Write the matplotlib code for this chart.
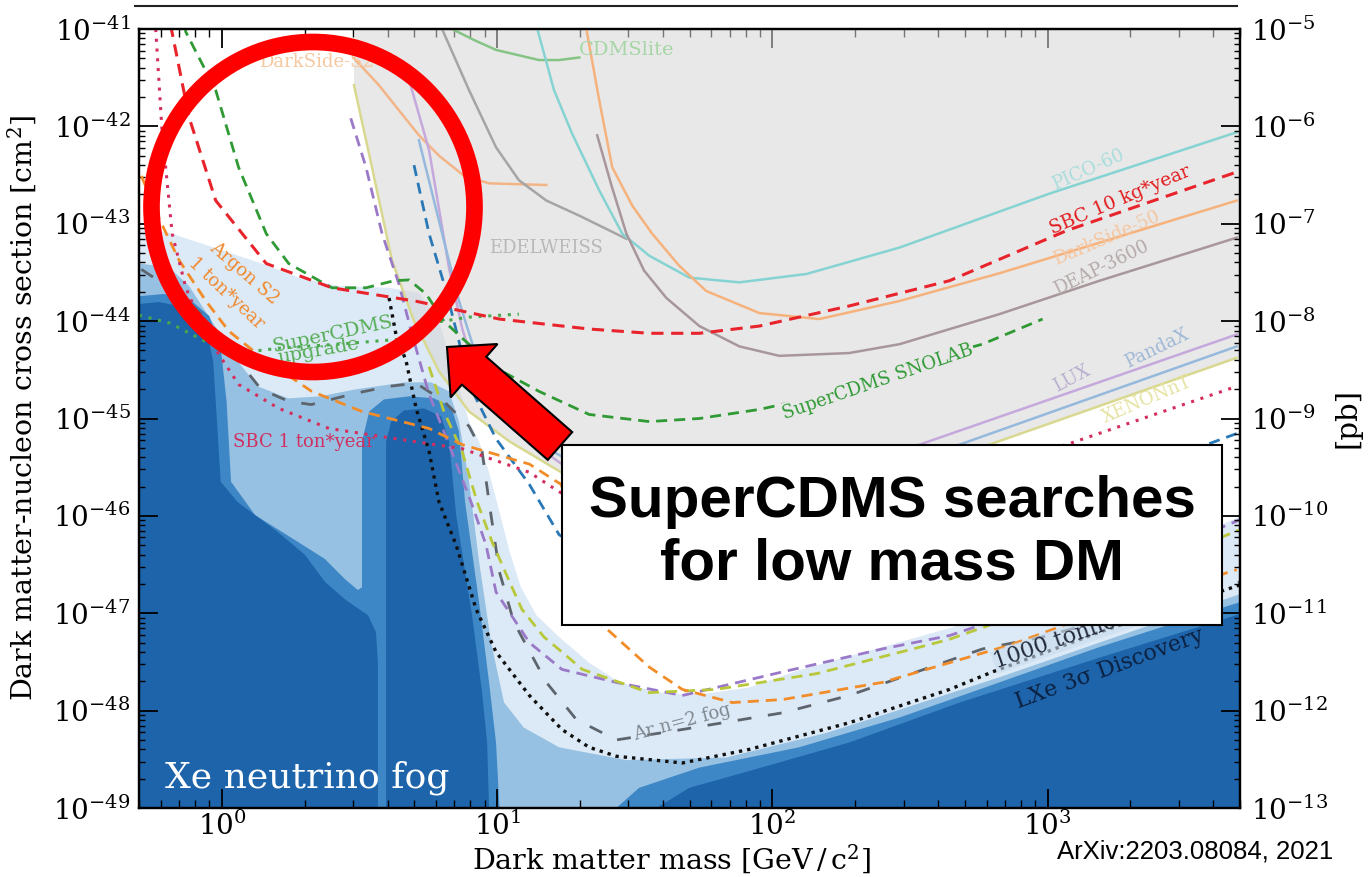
import numpy as np
import matplotlib
matplotlib.use("Agg")
import matplotlib.pyplot as plt
from matplotlib.ticker import LogLocator, NullFormatter
from matplotlib.patches import Ellipse, FancyArrow, Rectangle

plt.rcParams["font.family"] = ["DejaVu Serif"]
plt.rcParams["mathtext.fontset"] = "dejavuserif"

# ---------------- data: mass [GeV/c^2], cross section [cm^2] ----------------
# current limits (solid)
cdmslite_m = [6.86, 8.25, 9.91, 14.2, 16.8, 19.9]
cdmslite_s = [1e-41, 7.7e-42, 6.1e-42, 4.8e-42, 4.8e-42, 5.1e-42]
ds2_m = [3.02, 3.72, 4.40, 5.20, 6.15, 7.59, 9.35, 15.1]
ds2_s = [5.0e-42, 2.65e-42, 1.46e-42, 8.1e-43, 5.0e-43, 3.1e-43, 2.6e-43, 2.5e-43]
edel_m = [6.31, 7.91, 9.91, 12.0, 15.1, 19.9, 29.5]
edel_s = [1e-41, 2.35e-42, 6.1e-43, 2.8e-43, 1.73e-43, 1.21e-43, 7.0e-44]
pico_m = [14.0, 16.1, 18.7, 23.5, 28.5, 35.7, 49.9, 75.9, 133, 290, 1016, 4866]
pico_s = [1e-41, 2.35e-42, 8.5e-43, 2.2e-43, 7.9e-44, 4.7e-44, 2.8e-44, 2.5e-44,
          3.05e-44, 5.7e-44, 2.04e-43, 8.7e-43]
ds50_m = [21.1, 23.5, 26.2, 31.0, 36.6, 45.9, 57.5, 89.7, 148, 290, 668, 1545, 4866]
ds50_s = [1e-41, 1.85e-42, 3.8e-43, 1.53e-43, 7.9e-44, 3.7e-44, 2.04e-44, 1.21e-44,
          1.05e-44, 1.61e-44, 3.1e-44, 6.4e-44, 1.73e-43]
deap_m = [23.1, 26.0, 29.5, 34.2, 41.2, 54.3, 75.9, 106, 190, 290, 668, 1545, 4866]
deap_s = [8.1e-43, 2.5e-43, 7.9e-44, 3.3e-44, 1.73e-44, 8.9e-45, 5.5e-45, 4.4e-45,
          4.7e-45, 5.8e-45, 1.18e-44, 2.6e-44, 7.2e-44]
lux_m = [4.79, 5.66, 6.69, 7.46, 8.60, 11.3, 17.2, 35.7, 125, 343, 4866]
lux_s = [3.0e-42, 5.7e-43, 3.5e-44, 8.5e-45, 2.24e-45, 7.9e-46, 3.4e-46, 2.24e-46,
         2.8e-46, 5.4e-46, 7.3e-45]
pandax_m = [5.20, 6.15, 7.27, 8.97, 12.0, 17.1, 54.3, 190, 479, 4866]
pandax_s = [7.2e-43, 1.07e-43, 1.61e-44, 2.4e-45, 7.3e-46, 4.1e-46, 1.77e-46, 2.8e-46,
            5.4e-46, 5.5e-45]
xe1t_m = [3.02, 3.51, 4.15, 4.99, 6.15, 7.91, 11.1, 17.1, 54.3, 190, 615, 4866]
xe1t_s = [2.65e-42, 3.8e-43, 4.2e-44, 1.0e-44, 3.05e-45, 1.18e-45, 5.8e-46, 2.8e-46,
          1.39e-46, 2.24e-46, 5.4e-46, 4.2e-45]

# projections (dashed / dotted)
sbc10_m = [0.65, 0.66, 0.76, 0.95, 1.45, 2.51, 5.08, 10.2, 21.6, 35.7, 54.3, 89.7, 190,
           440, 1172, 4866]
sbc10_s = [1.1e-41, 9.1e-42, 1.24e-42, 1.73e-43, 3.9e-44, 2.2e-44, 1.6e-44, 1.05e-44,
           8.3e-45, 7.5e-45, 7.5e-45, 8.9e-45, 1.43e-44, 2.6e-44, 8.5e-44, 3.4e-43]
sbc1t_m = [0.575, 0.605, 0.625, 0.66, 0.74, 0.875, 1.15, 1.61, 2.45, 4.29, 7.46, 13.1,
           16.8, 54.3, 190, 668, 1172, 4866]
sbc1t_s = [1e-41, 9.8e-43, 3.8e-43, 7.9e-44, 2.2e-44, 7.3e-45, 2.24e-45, 1.27e-45,
           7.9e-46, 6.2e-46, 4.9e-46, 2.8e-46, 1.77e-46, 3.4e-47, 8.7e-47, 3.6e-46,
           5.4e-46, 2.14e-45]
snolab_m = [0.73, 0.74, 0.95, 1.15, 1.45, 1.75, 2.51, 3.34, 4.22, 4.79, 5.52, 6.41, 7.46,
            9.91, 14.2, 21.6, 35.7, 54.3, 89.7, 148, 245, 405, 580, 959]
snolab_s = [1.1e-41, 9.3e-42, 2.35e-42, 3.8e-43, 7.9e-44, 3.9e-44, 2.2e-44, 2.2e-44,
            2.6e-44, 2.65e-44, 1.9e-44, 1.0e-44, 6.7e-45, 3.3e-45, 1.9e-45, 1.1e-45,
            9.3e-46, 1.0e-45, 1.24e-45, 1.69e-45, 2.7e-45, 4.4e-45, 5.8e-45, 1.05e-44]
upgrade_m = [0.50, 0.65, 0.87, 1.14, 1.64, 2.66, 4.36, 5.66, 7.91, 12.0]
upgrade_s = [1.15e-44, 9.5e-45, 6.2e-45, 4.7e-45, 5.3e-45, 5.8e-45, 6.5e-45, 9.5e-45,
             1.1e-44, 1.18e-44]
argon_m = [0.51, 0.59, 0.70, 0.875, 1.06, 1.40, 2.12, 3.23, 5.66, 7.46, 13.1, 17.1, 23.5,
           35.7, 47.1, 71.6, 109, 251, 727, 1545, 4866]
argon_s = [3.1e-43, 1.15e-43, 4.2e-44, 1.61e-44, 7.9e-45, 4.2e-45, 1.9e-45, 1.18e-45,
           7.9e-46, 5.4e-46, 3.4e-46, 2.1e-46, 8.1e-48, 2.8e-48, 1.65e-48, 1.21e-48,
           1.3e-48, 1.95e-48, 4.7e-48, 1.02e-47, 2.8e-47]
purple_m = [2.94, 3.34, 3.82, 4.40, 4.91, 5.66, 6.69, 8.11, 9.12, 9.91, 13.1, 17.2, 27.1,
            47.1, 109, 251, 440, 1016, 2349, 4990]
purple_s = [1.21e-42, 3.8e-43, 7.9e-44, 2.4e-44, 7.3e-45, 1.77e-45, 5.4e-46, 1.3e-46,
            5.0e-47, 1.65e-47, 5.0e-48, 2.65e-48, 1.95e-48, 1.43e-48, 2.5e-48, 4.3e-48,
            5.9e-48, 1.3e-47, 3.8e-47, 9.1e-47]
ygreen_m = [5.66, 6.41, 7.46, 8.46, 9.59, 11.1, 12.3, 14.8, 17.2, 20.4, 35.7, 62.5, 145,
            334, 440, 1016, 2349, 4990]
ygreen_s = [3.4e-45, 1.18e-45, 4.6e-46, 1.39e-46, 5.4e-47, 2.1e-47, 1.1e-47, 5.7e-48,
            4.0e-48, 2.65e-48, 1.53e-48, 1.65e-48, 2.4e-48, 4.4e-48, 5.4e-48, 1.25e-47,
            3.0e-47, 7.2e-47]
blue_m = [4.99, 5.66, 6.53, 7.27, 7.91, 9.91, 13.1, 16.8, 27.8, 54.3, 190, 668, 3786, 4990]
blue_s = [4.0e-43, 7.9e-44, 2.04e-44, 6.2e-45, 2.24e-45, 6.2e-46, 2.1e-46, 6.4e-47,
          2.65e-47, 2.1e-47, 3.4e-47, 1.1e-46, 5.4e-46, 7.2e-46]
lxe_m = [4.05, 4.29, 4.67, 5.08, 5.66, 6.15, 7.10, 8.39, 9.91, 13.1, 17.2, 21.6, 27.1,
         47.1, 82.5, 190, 440, 631, 1545, 4990]
lxe_s = [1.73e-44, 7.3e-45, 3.9e-45, 1.27e-45, 4.6e-46, 1.39e-46, 5.0e-47, 1.1e-47,
         4.0e-48, 1.43e-48, 6.4e-49, 4.2e-49, 3.4e-49, 2.9e-49, 4.0e-49, 7.5e-49,
         1.65e-48, 2.5e-48, 6.4e-48, 1.95e-47]
arfog_m = [0.51, 0.67, 0.86, 1.11, 1.39, 1.75, 2.11, 3.05, 4.05, 5.08, 6.41, 7.91, 8.82,
           9.35, 10.2, 11.5, 15.1, 19.4, 27.1, 47.1, 109, 190, 580, 959, 3367, 4990]
arfog_s = [3.4e-44, 2.04e-44, 1.13e-44, 4.4e-45, 1.99e-45, 1.5e-45, 1.39e-45, 1.81e-45,
           2.14e-45, 2.3e-45, 1.5e-45, 8.3e-46, 4.6e-46, 1.39e-46, 2.65e-47, 8.1e-48,
           1.95e-48, 8.1e-49, 5.0e-49, 6.4e-49, 9.5e-49, 1.43e-48, 4.3e-48, 5.7e-48,
           1.53e-47, 2.1e-47]

# neutrino fog levels (upper boundaries, filled down to the axis floor)
fog0_m = [0.50, 0.64, 0.90, 1.36, 1.91, 2.66, 4.05, 5.20, 6.15, 6.98, 7.91, 8.60, 9.35,
          10.2, 11.1, 12.2, 13.9, 16.8, 21.6, 27.8, 38.8, 54.3, 82.5, 125, 273, 668,
          1545, 4990]
fog0_s = [8.9e-44, 8.1e-44, 5.9e-44, 4.0e-44, 2.8e-44, 2.3e-44, 2.2e-44, 1.95e-44, 1.0e-44,
          3.05e-45, 9.3e-46, 5.8e-46, 2.8e-46, 1.1e-46, 4.3e-47, 1.85e-47, 9.5e-48,
          5.7e-48, 3.1e-48, 1.95e-48, 1.53e-48, 1.46e-48, 1.73e-48, 2.6e-48, 4.8e-48,
          9.8e-48, 2.24e-47, 9.8e-47]
fog1_m = [0.50, 0.64, 0.76, 0.87, 1.14, 1.35, 1.74, 2.29, 3.05, 4.63, 5.75, 6.69, 7.27,
          7.91, 8.60, 9.51, 10.6, 12.5, 16.8, 29.5, 68.0, 157, 290, 668, 1545, 4990]
fog1_s = [3.9e-44, 3.6e-44, 2.3e-44, 1.27e-44, 3.9e-45, 2.14e-45, 1.61e-45, 1.69e-45,
          1.99e-45, 2.35e-45, 2.35e-45, 1.9e-45, 9.3e-46, 2.24e-46, 3.4e-47, 5.0e-48,
          1.21e-48, 6.7e-49, 4.2e-49, 3.1e-49, 3.3e-49, 5.9e-49, 1.02e-48, 2.2e-48,
          5.0e-48, 1.57e-47]
fog2a_m = [0.50, 0.615, 0.76, 0.90, 0.99, 1.04, 1.08, 1.32, 1.89, 2.37, 2.80, 3.12, 3.23,
           3.23, 3.43, 3.88, 4.79, 5.90, 6.80, 7.27, 7.65, 8.60, 9.35, 9.91, 10.2]
fog2a_s = [1.8e-44, 1.9e-44, 1.69e-44, 1.13e-44, 5.5e-45, 1.5e-45, 2.24e-46, 1.02e-46,
           5.4e-47, 3.6e-47, 2.24e-47, 1.73e-47, 1.85e-47, 5.8e-46, 1.18e-45, 1.57e-45,
           1.69e-45, 1.61e-45, 1.33e-45, 7.3e-46, 1.39e-46, 1.3e-47, 1.95e-48, 4.7e-49,
           1e-49]
fog2b_m = [27.1, 32.8, 54.3, 125, 290, 668, 1545, 4990]
fog2b_s = [1e-49, 1.61e-49, 2.6e-49, 4.2e-49, 8.5e-49, 1.95e-48, 4.5e-48, 1.3e-47]
fog3a_m = [0.50, 0.59, 0.70, 0.81, 0.88, 0.93, 0.96, 0.99, 1.14, 1.60, 2.00, 2.37, 2.80,
           3.40, 3.63, 3.69, 3.69]
fog3a_s = [1.5e-44, 1.57e-44, 1.43e-44, 1.13e-44, 7.9e-45, 3.9e-45, 9.3e-46, 2.24e-46,
           1.39e-46, 6.8e-47, 4.0e-47, 2.1e-47, 1.39e-47, 9.5e-48, 6.4e-48, 3.1e-48, 1e-49]
fog3b_m = [3.95, 3.95, 4.12, 4.59, 5.43, 6.26, 6.69, 7.10, 8.11, 8.82, 9.20, 9.35]
fog3b_s = [1e-49, 5.8e-46, 9.3e-46, 1.21e-45, 1.27e-45, 1.05e-45, 5.8e-46, 1.02e-46,
           9.5e-48, 1.53e-48, 4.7e-49, 1e-49]
fog3c_m = [37.9, 49.9, 82.5, 190, 479, 1545, 4990]
fog3c_s = [1e-49, 1.61e-49, 2.4e-49, 4.7e-49, 1.21e-48, 3.5e-48, 9.8e-48]

# axis ticks
x_ticks = [1, 10, 100, 1000]
y_ticks = [1e-49, 1e-48, 1e-47, 1e-46, 1e-45, 1e-44, 1e-43, 1e-42, 1e-41]
pb_ticks = [1e-13, 1e-12, 1e-11, 1e-10, 1e-9, 1e-8, 1e-7, 1e-6, 1e-5]

FLOOR = 1e-49

fig = plt.figure(figsize=(13.68, 8.77), dpi=100)
ax = fig.add_axes([139 / 1368, 69 / 877, 1101 / 1368, 779 / 877])
ax.set_xscale("log")
ax.set_yscale("log")
ax.set_xlim(0.5, 5000)
ax.set_ylim(1e-49, 1e-41)


def fill_down(m, s, color):
    ax.fill([m[0]] + list(m) + [m[-1]], [FLOOR] + list(s) + [FLOOR],
            color=color, lw=0, zorder=1)


fill_down(fog0_m, fog0_s, "#dce9f6")
fill_down(fog1_m, fog1_s, "#97c1e2")
fill_down(fog2a_m, fog2a_s, "#3d87c6")
fill_down(fog2b_m, fog2b_s, "#3d87c6")
fill_down(fog3a_m, fog3a_s, "#1d64ab")
fill_down(fog3b_m, fog3b_s, "#1d64ab")
fill_down(fog3c_m, fog3c_s, "#1d64ab")

# excluded region
ax.fill([xe1t_m[0]] + xe1t_m + [5000, 5000], [1e-41] + xe1t_s + [xe1t_s[-1], 1e-41],
        color="#d6d6d6", alpha=0.55, lw=0, zorder=2)

solid = [
    (cdmslite_m, cdmslite_s, "#86c486"),
    (ds2_m, ds2_s, "#f3b488"),
    (edel_m, edel_s, "#a5a5a5"),
    (pico_m, pico_s, "#86d3d3"),
    (ds50_m, ds50_s, "#f6b27c"),
    (deap_m, deap_s, "#a8979a"),
    (lux_m, lux_s, "#c5a8dc"),
    (pandax_m, pandax_s, "#95b8dd"),
    (xe1t_m, xe1t_s, "#d8d890"),
]
for m, s, c in solid:
    ax.plot(m, s, color=c, lw=1.8, zorder=3)

ax.plot(arfog_m, arfog_s, color="#5d646c", lw=2.0, ls=(0, (5, 6)), zorder=3)
ax.plot(lxe_m, lxe_s, color="#101010", lw=2.4, ls=(0, (1, 1.5)), zorder=3)
ax.plot(purple_m, purple_s, color="#9a79c8", lw=2.0, ls=(0, (4, 2.5)), zorder=3)
ax.plot(ygreen_m, ygreen_s, color="#b8c83a", lw=2.0, ls=(0, (4, 2.5)), zorder=3)
ax.plot(blue_m, blue_s, color="#2a78b5", lw=2.0, ls=(0, (4, 2.5)), zorder=3)
ax.plot(argon_m, argon_s, color="#f28c28", lw=2.0, ls=(0, (4, 2.5)), zorder=3)
ax.plot(sbc1t_m, sbc1t_s, color="#d42e5d", lw=2.2, ls=(0, (1, 2.2)), zorder=3)
ax.plot(upgrade_m, upgrade_s, color="#49a84c", lw=2.2, ls=(0, (1, 2.2)), zorder=3)
ax.plot(snolab_m, snolab_s, color="#2f9a34", lw=2.0, ls=(0, (4, 2.5)), zorder=3)
ax.plot(sbc10_m, sbc10_s, color="#e8232b", lw=2.2, ls=(0, (4, 2.5)), zorder=3)

labels = [
    ("DarkSide-S2", 2.2, 4.6e-42, 0, "#f5c8a0", 13),
    ("CDMSlite", 29.5, 6.1e-42, 0, "#a6d6a6", 14),
    ("EDELWEISS", 15.0, 5.7e-44, 0, "#b8b8b8", 13),
    ("PICO-60", 1400, 3.6e-43, 24, "#a9dcdc", 13),
    ("SBC 10 kg*year", 1828, 1.73e-43, 23, "#e31a1c", 13.5),
    ("DarkSide-50", 1640, 7.2e-44, 23, "#f5c6a0", 13),
    ("DEAP-3600", 1571, 3.5e-44, 26, "#b5aaaa", 13),
    ("LUX", 1222, 2.6e-45, 28, "#b9aed0", 13),
    ("PandaX", 2490, 5.3e-45, 26, "#9fb8d6", 13),
    ("XENONnT", 2290, 1.57e-45, 23, "#e6e2a0", 13),
    ("Argon S2", 1.20, 3.1e-44, -41, "#f08a30", 13),
    ("1 ton*year", 1.04, 1.95e-44, -43, "#f08a30", 13),
    ("SuperCDMS", 2.53, 7.3e-45, 12, "#55ad55", 14),
    ("upgrade", 2.25, 4.9e-45, 10, "#55ad55", 14),
    ("SBC 1 ton*year", 1.99, 5.7e-46, 0, "#d03060", 13),
    ("Ar n=2 fog", 47.1, 7.5e-49, 15, "#808890", 13),
    ("LXe 3\u03c3 Discovery", 1680, 2.7e-48, 20, "#0c2040", 16),
]
for txt, m, s, rot, c, fs in labels:
    ax.text(m, s, txt, rotation=rot, rotation_mode="anchor", ha="center",
            va="center", color=c, fontsize=fs, zorder=4)

ax.text(640, 3.1e-48, "1000 tonne \u00d7 year", rotation=19, rotation_mode="anchor",
        ha="left", va="center", color="#222a3a", fontsize=16, zorder=4,
        bbox=dict(fc="#c9def0", ec="none", pad=0.5, alpha=0.6))
ax.text(241, 2.4e-45, "SuperCDMS SNOLAB", rotation=19, rotation_mode="anchor",
        ha="center", va="center", color="#2f9a34", fontsize=13, zorder=4,
        bbox=dict(fc="#e8e8e8", ec="none", pad=1))
ax.text(2.04, 2.04e-49, "Xe neutrino fog", ha="center", va="center",
        color="white", fontsize=26, zorder=4)

# axes styling
ax.set_xticks(x_ticks)
ax.set_yticks(y_ticks)
ax.xaxis.set_minor_locator(LogLocator(base=10, subs=np.arange(2, 10), numticks=100))
ax.yaxis.set_minor_locator(LogLocator(base=10, subs=np.arange(2, 10), numticks=100))
ax.xaxis.set_minor_formatter(NullFormatter())
ax.yaxis.set_minor_formatter(NullFormatter())
ax.set_xlim(0.5, 5000)
ax.set_ylim(1e-49, 1e-41)
ax.tick_params(which="both", direction="in", top=True, right=False, labelsize=20)
ax.tick_params(which="major", length=14, width=1.3)
ax.tick_params(which="minor", length=6, width=1.0)
ax.tick_params(axis="y", which="minor", length=4)
ax.tick_params(axis="x", pad=3)
ax.tick_params(axis="y", pad=6)
for sp in ax.spines.values():
    sp.set_linewidth(1.6)

ax.set_xlabel("Dark matter mass [GeV$\\,$/$\\,$c$^2$]", fontsize=20.5)
ax.set_ylabel("Dark matter-nucleon cross section [cm$^2$]", fontsize=20.5)
ax.xaxis.set_label_coords(0.484, -0.044)
ax.yaxis.set_label_coords(-0.091, 0.513)

ax2 = ax.twinx()
ax2.set_yscale("log")
ax2.set_yticks(pb_ticks)
ax2.yaxis.set_minor_locator(LogLocator(base=10, subs=np.arange(2, 10), numticks=100))
ax2.yaxis.set_minor_formatter(NullFormatter())
ax2.set_ylim(1e-13, 1e-5)
ax2.tick_params(which="both", direction="in", labelsize=20, pad=8)
ax2.tick_params(which="major", length=14, width=1.3)
ax2.tick_params(which="minor", length=4, width=1.0)
ax2.set_ylabel("[pb]", fontsize=21)
ax2.yaxis.set_label_coords(1.085, 0.50)
for sp in ax2.spines.values():
    sp.set_linewidth(1.6)

# slide overlay (pixel coordinates)
ov = fig.add_axes([0, 0, 1, 1])
ov.set_xlim(0, 1368)
ov.set_ylim(877, 0)
ov.axis("off")
ov.plot([135, 1237], [6, 6], color="#222222", lw=1.5)
ov.add_patch(Ellipse((313, 207), 323, 330, fill=False, ec="#ff0000", lw=12))
ov.add_patch(FancyArrow(560, 446, -113, -99, width=37, head_width=71, head_length=36,
                        length_includes_head=True, fc="#ff0000", ec="black", lw=1.5))
ov.add_patch(Rectangle((562, 445), 660, 180, fc="white", ec="black", lw=1.5))
ov.text(892, 533, "SuperCDMS searches\nfor low mass DM", ha="center", va="center",
        fontsize=42, fontweight="bold", family="Liberation Sans", linespacing=1.2)
ov.text(1195, 851, "ArXiv:2203.08084, 2021", ha="center", va="center",
        fontsize=18.5, family="Liberation Sans")

fig.savefig("out.png", dpi=100)
